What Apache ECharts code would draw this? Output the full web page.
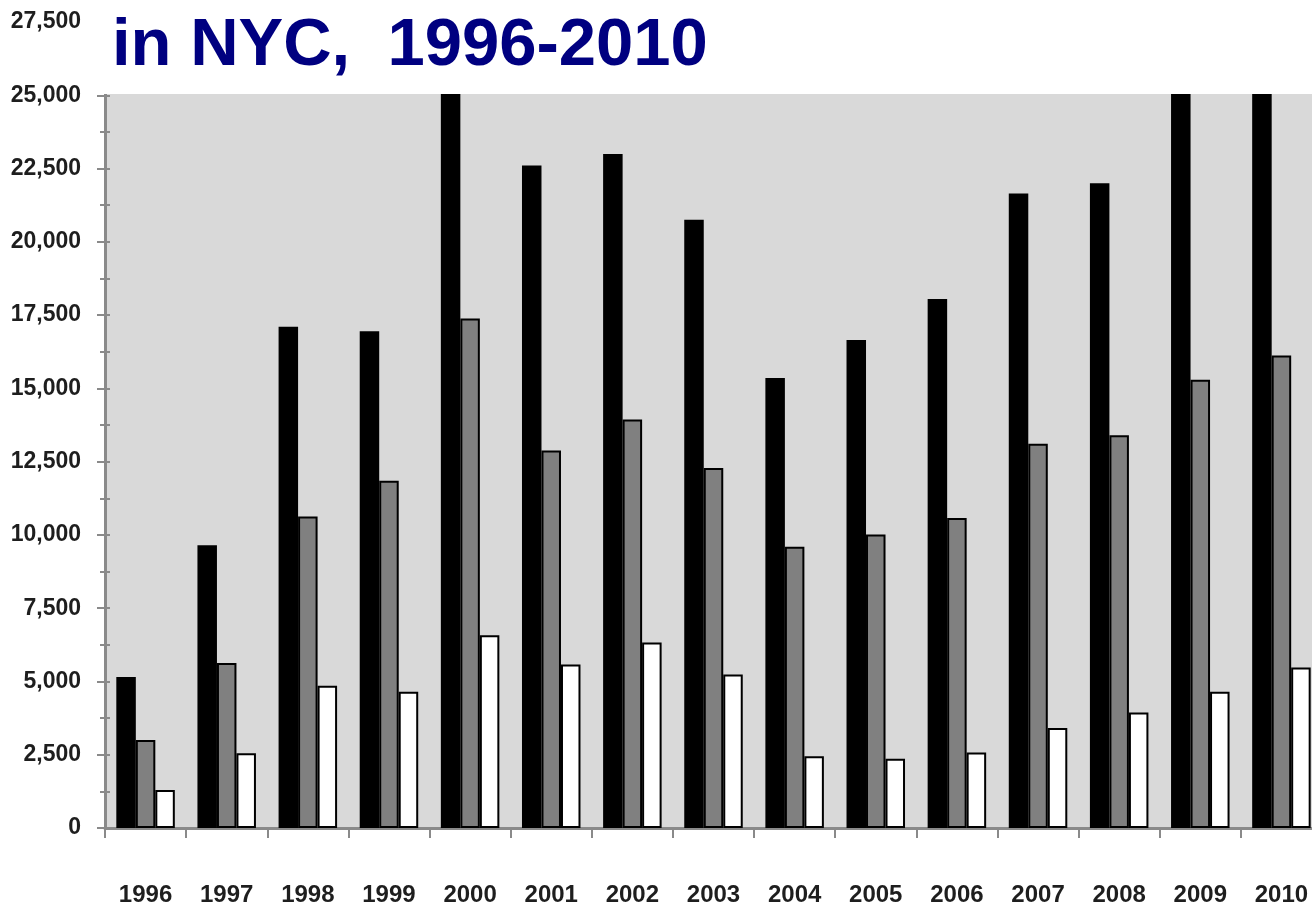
<!DOCTYPE html>
<html>
<head>
<meta charset="utf-8">
<style>
  html, body { margin: 0; padding: 0; background: #ffffff; }
  #chart { width: 1312px; height: 906px; }
</style>
<script src="https://cdn.jsdelivr.net/npm/echarts@6/dist/echarts.min.js"></script>
</head>
<body>
<div id="chart"></div>
<script>
// ---- data ----
const titleText = 'in NYC,  1996-2010';
const years = ['1996','1997','1998','1999','2000','2001','2002','2003','2004','2005','2006','2007','2008','2009','2010'];
// black bars (2000, 2009, 2010 run off the top of the visible plot; values estimated)
const blackValues = [5150, 9650, 17100, 16950, 26500, 22600, 23000, 20750, 15350, 16650, 18050, 21650, 22000, 26000, 26500];
// grey bars
const greyValues  = [3000, 5630, 10630, 11850, 17380, 12880, 13940, 12280, 9600, 10010, 10580, 13110, 13400, 15290, 16120];
// white bars
const whiteValues = [1300, 2550, 4850, 4650, 6580, 5580, 6330, 5240, 2450, 2360, 2580, 3410, 3940, 4650, 5480];
// y-axis scale
const yMin = 0, yMax = 27500, yStep = 2500;

const chart = echarts.init(document.getElementById('chart'), null, { renderer: 'canvas' });

const axisGray = '#8a8a8a';
const labelFont = '"Liberation Sans", Arial, sans-serif';

function fmt(v) { return v === 0 ? '0' : v.toLocaleString('en-US'); }

const barStyle = (fill) => ({ color: fill, borderColor: '#000000', borderWidth: 2 });

const option = {
  animation: false,
  backgroundColor: '#ffffff',
  grid: {
    left: 105, right: -10, top: 22, bottom: 78,
    show: true, backgroundColor: '#d9d9d9', borderWidth: 0,
    containLabel: false,
    outerBoundsMode: 'none'
  },
  xAxis: {
    type: 'category',
    data: years,
    boundaryGap: true,
    axisLine: { show: true, lineStyle: { color: axisGray, width: 3 } },
    axisTick: { show: true, interval: 0, length: 10, lineStyle: { color: axisGray, width: 2 } },
    axisLabel: {
      interval: 0, margin: 55,
      color: '#1e1e1e', fontFamily: labelFont, fontWeight: 'bold', fontSize: 24
    },
    splitLine: { show: false }
  },
  yAxis: [
    {
      type: 'value', position: 'left',
      min: yMin, max: yMax, interval: yStep,
      axisLine: { show: true, lineStyle: { color: axisGray, width: 3 } },
      axisTick: { show: true, length: 8, lineStyle: { color: axisGray, width: 2 } },
      minorTick: { show: true, splitNumber: 2, length: 5, lineStyle: { color: axisGray, width: 2 } },
      axisLabel: {
        margin: 24, formatter: fmt,
        color: '#1e1e1e', fontFamily: labelFont, fontWeight: 'bold', fontSize: 23
      },
      splitLine: { show: false }
    },
    {
      type: 'value', position: 'left', offset: 0,
      min: yMin, max: yMax, interval: yStep,
      axisLine: { show: false },
      axisTick: { show: true, inside: true, length: 5, lineStyle: { color: axisGray, width: 2 } },
      minorTick: { show: true, splitNumber: 2, length: 5, lineStyle: { color: axisGray, width: 2 } },
      axisLabel: { show: false },
      splitLine: { show: false }
    }
  ],
  series: [
    { name: 'Black', type: 'bar', data: blackValues, barWidth: 19.5, barGap: '0%', itemStyle: barStyle('#000000') },
    { name: 'Grey',  type: 'bar', data: greyValues,  barWidth: 19.5, barGap: '0%', itemStyle: barStyle('#808080') },
    { name: 'White', type: 'bar', data: whiteValues, barWidth: 19.5, barGap: '0%', itemStyle: barStyle('#ffffff') }
  ],
  graphic: [
    {
      type: 'rect', z: 100, silent: true,
      shape: { x: 93, y: 0, width: 1219, height: 94 },
      style: { fill: '#ffffff' }
    },
    {
      type: 'text', z: 101, silent: true,
      x: 112, y: 13,
      style: {
        text: titleText,
        fill: '#000080',
        font: 'bold 67px "Liberation Sans", Arial, sans-serif'
      }
    }
  ]
};

chart.setOption(option);
</script>
</body>
</html>
